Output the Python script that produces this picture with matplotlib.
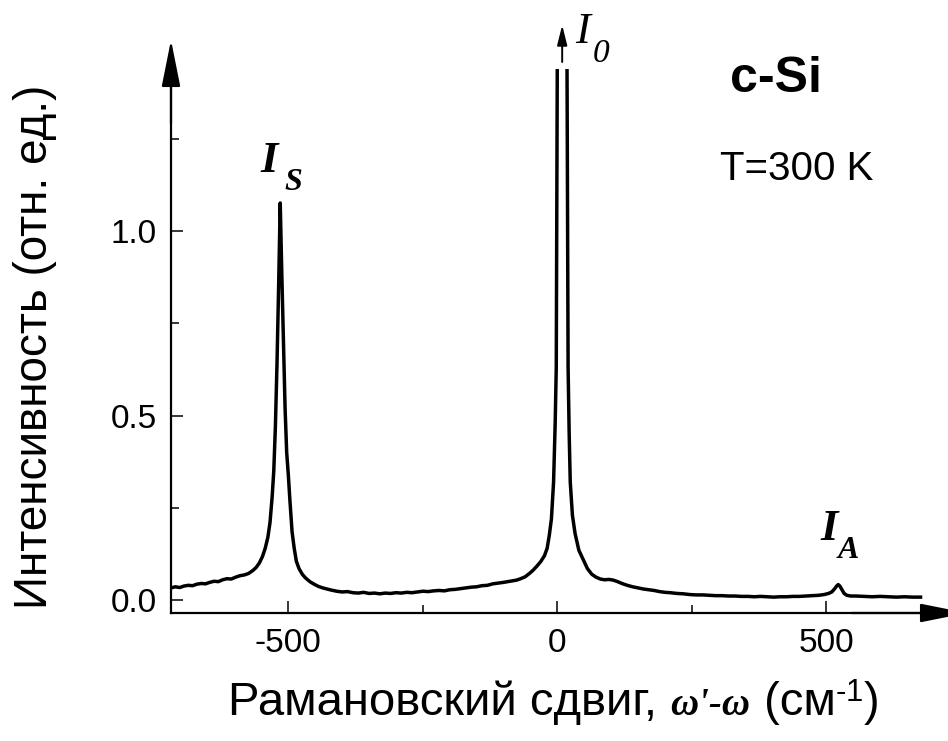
import matplotlib
matplotlib.use('Agg')
import matplotlib.pyplot as plt
from matplotlib.offsetbox import TextArea, HPacker, AnnotationBbox

plt.rcParams['font.family'] = ['Liberation Sans', 'DejaVu Sans']
plt.rcParams['axes.unicode_minus'] = False
plt.rcParams['mathtext.fontset'] = 'custom'
plt.rcParams['mathtext.rm'] = 'Liberation Sans'

# Спектр КР c-Si (сдвиг, см-1 / интенсивность, отн. ед.)
shift = [-718, -710, -702, -694, -686, -678, -670, -662, -654, -646, -638, -630,
         -622, -614, -606, -598, -590, -582, -574, -566, -560, -554, -548, -543,
         -538, -534, -530, -527, -524, -521, -518, -515, -512, -509, -506, -503,
         -500, -497, -493, -489, -485, -480, -474, -468, -460, -452, -444, -436,
         -428, -420, -410, -400, -390, -380, -370, -360, -350, -340, -330, -320,
         -310, -300, -290, -280, -270, -260, -250, -240, -230, -220, -210, -200,
         -190, -180, -170, -160, -150, -140, -130, -120, -110, -100, -92, -84,
         -76, -68, -60, -52, -45, -38, -31, -24, -19, -15, -11, -7, -4, -2, 0,
         4, 14, 18, 20, 22, 24, 28, 33, 40, 48, 56, 64, 72, 80, 88, 96, 104,
         112, 120, 130, 140, 150, 160, 170, 180, 190, 200, 210, 222, 234, 246,
         258, 270, 282, 294, 306, 318, 330, 342, 354, 366, 378, 390, 402, 414,
         426, 438, 450, 462, 474, 486, 496, 504, 510, 515, 519, 522, 525, 529,
         533, 538, 545, 555, 570, 585, 600, 615, 630, 645, 660, 675]
intensity = [0.033, 0.036, 0.034, 0.038, 0.040, 0.039, 0.043, 0.045, 0.044, 0.048,
             0.051, 0.050, 0.055, 0.058, 0.057, 0.062, 0.066, 0.068, 0.072, 0.080,
             0.088, 0.100, 0.118, 0.140, 0.170, 0.210, 0.280, 0.350, 0.470, 0.640,
             0.850, 1.076, 0.880, 0.700, 0.520, 0.400, 0.340, 0.270, 0.185, 0.140,
             0.105, 0.085, 0.070, 0.060, 0.050, 0.043, 0.037, 0.033, 0.030, 0.027,
             0.024, 0.022, 0.023, 0.020, 0.019, 0.021, 0.018, 0.019, 0.017, 0.019,
             0.018, 0.020, 0.019, 0.021, 0.020, 0.022, 0.024, 0.023, 0.025, 0.026,
             0.025, 0.028, 0.029, 0.031, 0.033, 0.035, 0.036, 0.039, 0.040, 0.044,
             0.046, 0.048, 0.050, 0.052, 0.054, 0.058, 0.063, 0.072, 0.081, 0.092,
             0.104, 0.120, 0.140, 0.175, 0.220, 0.320, 0.480, 0.630, 1.440, 4.000,
             4.000, 1.440, 0.630, 0.450, 0.320, 0.230, 0.180, 0.135, 0.110, 0.085,
             0.070, 0.062, 0.057, 0.055, 0.056, 0.054, 0.050, 0.045, 0.040, 0.036,
             0.033, 0.030, 0.028, 0.026, 0.023, 0.021, 0.020, 0.018, 0.017, 0.015,
             0.014, 0.014, 0.013, 0.012, 0.012, 0.011, 0.011, 0.010, 0.010, 0.009,
             0.010, 0.009, 0.008, 0.009, 0.009, 0.010, 0.010, 0.011, 0.012, 0.013,
             0.015, 0.018, 0.022, 0.030, 0.038, 0.042, 0.038, 0.028, 0.018, 0.013,
             0.011, 0.011, 0.010, 0.009, 0.010, 0.009, 0.008, 0.009, 0.008, 0.008]

x_major = [-500, 0, 500]
x_minor = [-250, 250]
y_major = [0.0, 0.5, 1.0]
y_minor = [0.25, 0.75, 1.25]
y_labels = ['0.0', '0.5', '1.0']

W, H = 948, 741


def fx(px):
    return px / W


def fy(py):
    return 1 - py / H


fig = plt.figure(figsize=(W / 100, H / 100), dpi=100)
ax = fig.add_axes([fx(171), fy(613), 756 / W, 544 / H])

ax.plot(shift, intensity, color='black', lw=2.5, solid_joinstyle='round')
ax.set_xlim(-718, 687)
ax.set_ylim(-0.035, 1.439)

ax.spines['top'].set_visible(False)
ax.spines['right'].set_visible(False)
for s in ['left', 'bottom']:
    ax.spines[s].set_linewidth(1.6)

ax.set_xticks(x_major)
ax.set_xticks(x_minor, minor=True)
ax.set_yticks(y_major)
ax.set_yticklabels(y_labels)
ax.set_yticks(y_minor, minor=True)
ax.tick_params(which='both', direction='in', width=1.1, labelsize=24)
ax.tick_params(which='major', length=8.6)
ax.tick_params(which='minor', length=5.8)
ax.tick_params(axis='x', pad=11)
ax.tick_params(axis='y', pad=10)

# стрелки осей
head = dict(arrowstyle='-|>,head_length=2.9,head_width=0.58', mutation_scale=10,
            lw=1.6, color='black', shrinkA=0, shrinkB=0)
ax.annotate('', xy=(0, 1 + 29 / 544), xytext=(0, 0.9), xycoords='axes fraction',
            arrowprops=head, annotation_clip=False)
ax.annotate('', xy=(1 + 40 / 756, 0), xytext=(0.9, 0), xycoords='axes fraction',
            arrowprops=head, annotation_clip=False)

# стрелка к линии I0
ax.annotate('', xy=(9, 1.558), xytext=(9, 1.458),
            arrowprops=dict(arrowstyle='-|>,head_length=1.2,head_width=0.3',
                            mutation_scale=10, lw=1.4, color='black',
                            shrinkA=0, shrinkB=0), annotation_clip=False)

serif_bi = dict(family='Liberation Serif', style='italic', weight='bold')
serif_i = dict(family='Liberation Serif', style='italic')

fig.text(fx(260), fy(172), 'I', fontsize=32, va='baseline', **serif_bi)
fig.text(fx(284), fy(190), 'S', fontsize=23, va='baseline', **serif_bi)
fig.text(fx(820), fy(540), 'I', fontsize=32, va='baseline', **serif_bi)
fig.text(fx(838), fy(558), 'A', fontsize=23, va='baseline', **serif_bi)
fig.text(fx(575), fy(43), 'I', fontsize=32, va='baseline', **serif_i)
fig.text(fx(593), fy(62), '0', fontsize=24, va='baseline', **serif_i)

fig.text(fx(730), fy(92), 'c-Si', fontsize=36, fontweight='bold', va='baseline')
fig.text(fx(720), fy(180), 'T=300 K', fontsize=29, va='baseline')

fig.text(fx(35), fy(347), 'Интенсивность (отн. ед.)', fontsize=33,
         rotation=90, ha='center', va='center')

sans = dict(fontsize=34, family='Liberation Sans')
parts = [TextArea('Рамановский сдвиг, ', textprops=sans),
         TextArea("ω'-ω", textprops=dict(fontsize=28, **serif_bi)),
         TextArea(' (см', textprops=sans),
         TextArea(r'$^{\text{-}1}$', textprops=dict(fontsize=32)),
         TextArea(')', textprops=sans)]
xlabel = HPacker(children=parts, align='baseline', pad=0, sep=0)
fig.add_artist(AnnotationBbox(xlabel, (fx(554), fy(703)), xycoords='figure fraction',
                              frameon=False, box_alignment=(0.5, 0.5)))

fig.savefig('out.png', dpi=100)
